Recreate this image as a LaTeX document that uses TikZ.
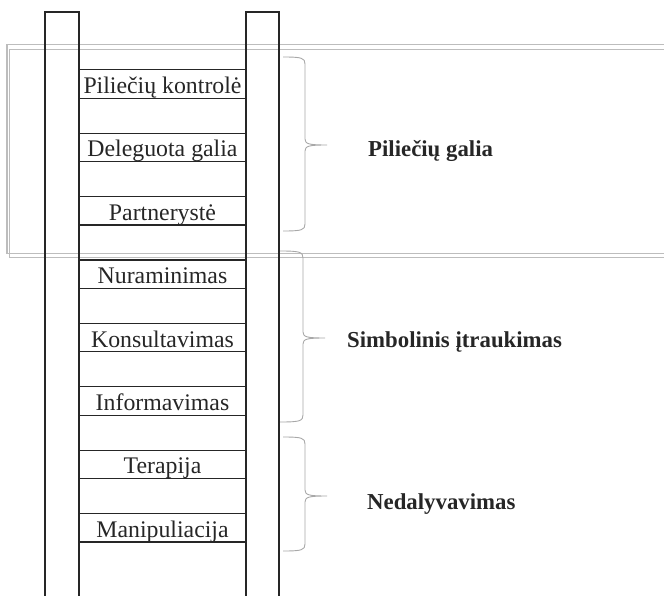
\documentclass[tikz,border=0pt]{standalone}
\usepackage{fontspec}
\setmainfont{Liberation Serif}
\definecolor{railink}{HTML}{262626}
\definecolor{framegray}{HTML}{BDBDBD}
\definecolor{bracegray}{HTML}{A8A8A8}
% curly brace: end x, vertical x, tip x, top y, middle y, bottom y
\newcommand{\groupbrace}[6]{%
  \draw[bracestroke] (#1,#4) .. controls (#2-3,#4) and (#2,#4+1) .. (#2,#4+7)
    -- (#2,#5-6) .. controls (#2,#5-1) and (#2+4,#5) .. (#3,#5)
    .. controls (#2+4,#5) and (#2,#5+1) .. (#2,#5+6)
    -- (#2,#6-7) .. controls (#2,#6-1) and (#2-3,#6) .. (#1,#6);}
\begin{document}
\begin{tikzpicture}[x=1pt,y=-1pt,
  rail/.style={draw=railink,line width=2.4pt},
  rungline/.style={draw=railink,line width=1.2pt},
  rungbox/.style={inner xsep=0pt,inner ysep=0pt,minimum width=167pt,
    text height=23.5pt,text depth=4.5pt,
    font=\fontsize{23.8}{27}\selectfont,text=railink},
  framebox/.style={draw=framegray,line width=1.1pt},
  bracestroke/.style={draw=bracegray,line width=0.9pt},
  grouplabel/.style={anchor=base west,inner sep=0pt,
    font=\fontsize{22.8}{26}\selectfont\bfseries,text=railink}]
\useasboundingbox (0,0) rectangle (664,596);
\clip (0,0) rectangle (664,596);

% double grey frame around the upper group
\draw[framebox] (7,44.5) rectangle (700,253.3);
\draw[framebox] (9.5,49.3) rectangle (700,257.3);

% ladder rails, open at the bottom
\draw[rail] (45,610) -- (45,12) -- (79,12) -- (79,610);
\draw[rail] (246,610) -- (246,12) -- (279,12) -- (279,610);

% rungs
\node[rungbox] (r1) at (162.5,84)    {Piliečių kontrolė};
\node[rungbox] (r2) at (162.5,147.4) {Deleguota galia};
\node[rungbox] (r3) at (162.5,210.8) {Partnerystė};
\node[rungbox] (r4) at (162.5,274.2) {Nuraminimas};
\node[rungbox] (r5) at (162.5,337.6) {Konsultavimas};
\node[rungbox] (r6) at (162.5,401)   {Informavimas};
\node[rungbox] (r7) at (162.5,464.4) {Terapija};
\node[rungbox] (r8) at (162.5,527.8) {Manipuliacija};
\foreach \r in {r1,r2,r3,r4,r5,r6,r7,r8}{
  \draw[rungline] (\r.north west) -- (\r.north east);
  \draw[rungline] (\r.south west) -- (\r.south east);
}

% braces and group labels
\groupbrace{283}{305}{327}{57}{145}{231}
\groupbrace{280}{303}{325}{251}{338}{422}
\groupbrace{283}{305}{327}{437}{496}{551}
\node[grouplabel] (g1) at (368,156.7) {Piliečių galia};
\node[grouplabel] (g2) at (347,347.3) {Simbolinis įtraukimas};
\node[grouplabel] (g3) at (367,509.3) {Nedalyvavimas};
\end{tikzpicture}
\end{document}
